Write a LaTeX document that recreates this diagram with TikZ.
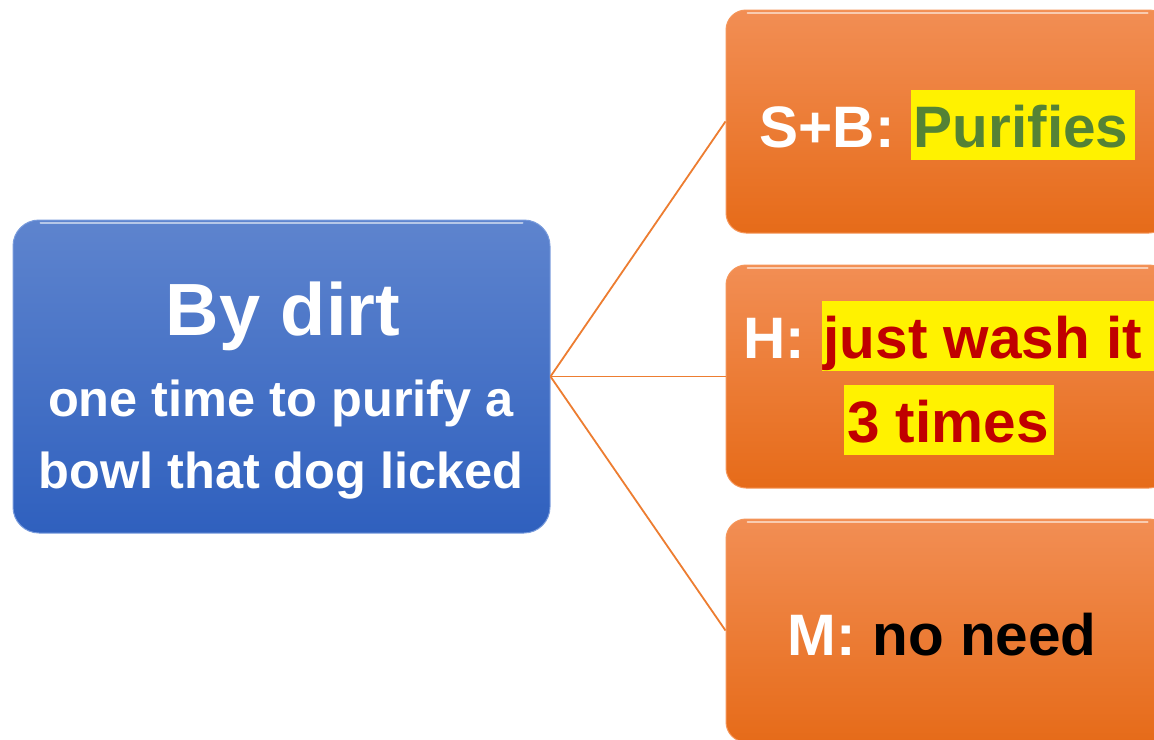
\documentclass[tikz,border=0pt]{standalone}
\usepackage{fontspec}
\setmainfont{Liberation Sans}
\usepackage{xcolor}
\definecolor{bluetop}{RGB}{94,132,206}
\definecolor{bluebot}{RGB}{47,96,190}
\definecolor{blueedge}{RGB}{120,155,220}
\definecolor{orgtop}{RGB}{242,142,84}
\definecolor{orgbot}{RGB}{230,107,25}
\definecolor{orgedge}{RGB}{245,150,90}
\definecolor{conn}{RGB}{237,125,49}
\definecolor{hlgreen}{RGB}{84,130,53}
\definecolor{hlred}{RGB}{192,0,0}
\newcommand\hlbox[4]{{\setlength{\fboxsep}{0pt}\colorbox{yellow}{\rule[-13pt]{0pt}{70pt}\hspace{#1}\textcolor{#3}{#4}\hspace{#2}}}}
\begin{document}
\begin{tikzpicture}[x=1pt,y=-1pt,
  bluebox/.style={rectangle, rounded corners=26pt, minimum width=537pt, minimum height=313pt,
    top color=bluetop, bottom color=bluebot, draw=blueedge, line width=1pt, inner sep=0pt},
  orgbox/.style={rectangle, rounded corners=20pt, minimum width=443pt, minimum height=223pt,
    top color=orgtop, bottom color=orgbot, draw=orgedge, line width=1pt, inner sep=0pt},
  link/.style={draw=conn, line width=1.8pt},
  gloss/.style={draw=white, opacity=0.55, line width=2pt, line cap=round},
  bigtxt/.style={text=white, font=\bfseries\fontsize{74}{80}\selectfont, inner sep=0pt, anchor=base},
  midtxt/.style={text=white, font=\bfseries\fontsize{50.5}{56}\selectfont, inner sep=0pt, anchor=base},
  otxt/.style={text=white, font=\bfseries\fontsize{58.5}{64}\selectfont, inner sep=0pt, anchor=base west}
]
\useasboundingbox (0,0) rectangle (1154,739);
\clip (0,0) rectangle (1154,739);
\fill[white] (0,0) rectangle (1154,739);

% boxes
\node[bluebox] (dirt) at (281.5,376.5) {};
\node[orgbox] (sb) at (947.5,121.5) {};
\node[orgbox] (h) at (947.5,376.5) {};
\node[orgbox, minimum height=223pt] (m) at (947.5,630.5) {};

% glossy top edges
\draw[gloss] ([xshift=28pt,yshift=-3.5pt]dirt.north west) -- ([xshift=-28pt,yshift=-3.5pt]dirt.north east);
\draw[gloss] ([xshift=22pt,yshift=-3.5pt]sb.north west) -- ([xshift=-22pt,yshift=-3.5pt]sb.north east);
\draw[gloss] ([xshift=22pt,yshift=-3.5pt]h.north west) -- ([xshift=-22pt,yshift=-3.5pt]h.north east);
\draw[gloss] ([xshift=22pt,yshift=-3.5pt]m.north west) -- ([xshift=-22pt,yshift=-3.5pt]m.north east);

% connectors
\draw[link] (dirt.east) -- (sb.west);
\draw[link] (dirt.east) -- (h.west);
\draw[link] (dirt.east) -- (m.west);

% blue box text
\node[bigtxt] (d1) at (283,335) {By dirt};
\node[midtxt] (d2) at (281,416.5) {one time to purify a};
\node[midtxt] (d3) at (281,488.3) {bowl that dog licked};

% orange box texts
\node[otxt] (s1) at (759.5,147) {S+B: \hlbox{3pt}{7pt}{hlgreen}{Purifies}};
\node[otxt] (h1) at (743.4,358) {H: \hlbox{2pt}{16pt}{hlred}{just wash it}};
\node[otxt] (h2) at (844,442) {\hlbox{3pt}{5pt}{hlred}{3 times}};
\node[otxt] (m1) at (787.7,655) {M: \textcolor{black}{no need}};
\end{tikzpicture}
\end{document}
